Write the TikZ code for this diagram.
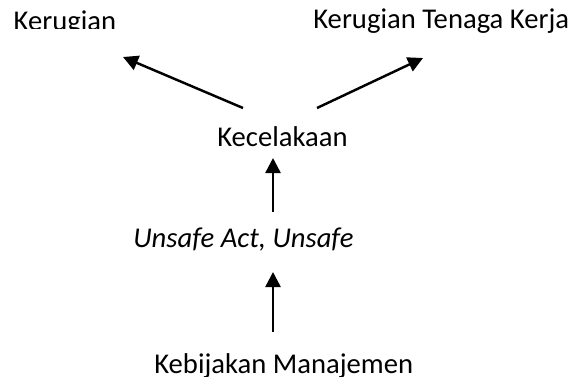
\documentclass[tikz,border=0pt]{standalone}
\usepackage{fontspec}
\setmainfont{Carlito}
\usepackage{tikz}
\usetikzlibrary{arrows.meta}

\begin{document}
\begin{tikzpicture}[join=round,
        lbl/.style={inner sep=0pt,anchor=base west,font=\fontsize{16.3}{19}\selectfont},
        arr/.style={line width=1.4pt,-{Triangle[length=.3cm,width=.3cm]}}]
          \useasboundingbox (0,0) rectangle (11.58,7.52);
          \begin{scope}
            \clip (0,6.96) rectangle (11.58,7.52);
            \node[lbl] (rugi) at (.266,6.92) {Kerugian};
          \end{scope}
          \node[lbl] (rugitk) at (6.26,6.95) {Kerugian Tenaga Kerja};
          \node[lbl] (kec) at (4.34,4.6) {Kecelakaan};
          \node[lbl] (unsafe) at (2.66,2.58) {\itshape Unsafe Act, Unsafe};
          \node[lbl] (bijak) at (3.08,.06) {Kebijakan Manajemen};
          \coordinate (kecL) at (4.86,5.36);
          \coordinate (kecR) at (6.34,5.36);
          \coordinate (rugiT) at (2.46,6.38);
          \coordinate (rugitkT) at (8.46,6.36);
          \coordinate (kecB) at (5.46,4.36);
          \coordinate (unsafeT) at (5.46,3.28);
          \coordinate (unsafeB) at (5.46,2.08);
          \coordinate (bijakT) at (5.46,.88);
          \draw[arr] (kecL) -- (rugiT);
          \draw[arr] (kecR) -- (rugitkT);
          \draw[arr] (unsafeT) -- (kecB);
          \draw[arr] (bijakT) -- (unsafeB);
    \end{tikzpicture}
\end{document}
